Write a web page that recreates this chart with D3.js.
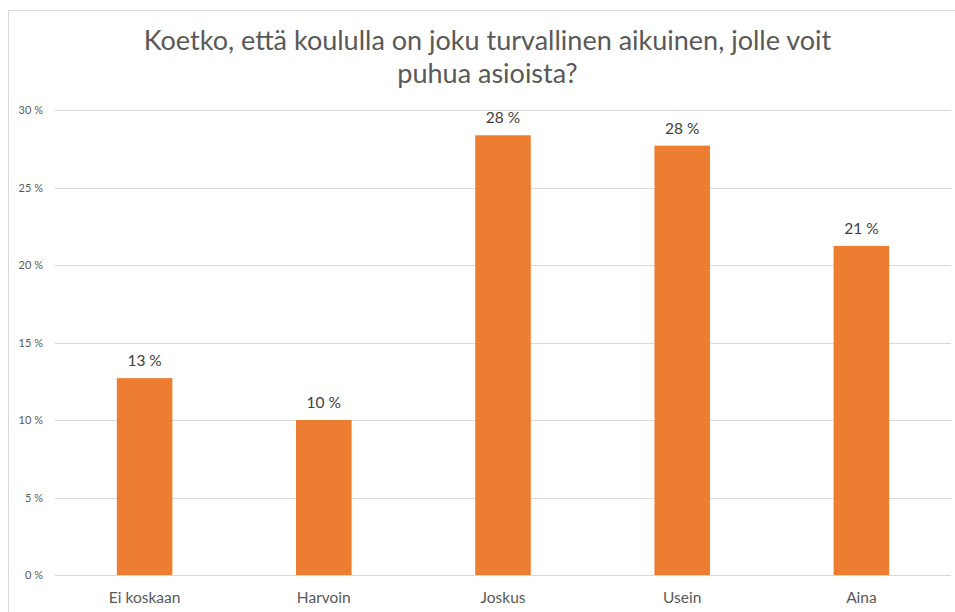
<!DOCTYPE html>
<html>
<head>
<meta charset="utf-8">
<script src="https://cdn.jsdelivr.net/npm/d3@7"></script>
<style>
  body { margin: 0; background: #fff; }
  text { font-family: Lato, "Open Sans", sans-serif; }
</style>
</head>
<body>
<div id="chart"></div>
<script>
// data
const categories = ["Ei koskaan", "Harvoin", "Joskus", "Usein", "Aina"];
const values = [12.7, 10.0, 28.37, 27.7, 21.23];
const yTicks = [0, 5, 10, 15, 20, 25, 30];
const titleLines = ["Koetko, että koululla on joku turvallinen aikuinen, jolle voit", "puhua asioista?"];

const width = 955, height = 612;
const margin = { top: 110, right: 4, bottom: 37, left: 55 };

const svg = d3.select("#chart").append("svg")
  .attr("width", width)
  .attr("height", height);

// chart frame
svg.append("rect")
  .attr("x", 8.5).attr("y", 10.5)
  .attr("width", width + 10).attr("height", height + 10)
  .attr("fill", "#fff")
  .attr("stroke", "#d9d9d9");

const x = d3.scaleBand()
  .domain(categories)
  .range([margin.left, width - margin.right])
  .paddingInner(0.69)
  .paddingOuter(0.345);

const y = d3.scaleLinear()
  .domain([0, 30])
  .range([height - margin.bottom, margin.top]);

// gridlines
svg.append("g")
  .selectAll("line")
  .data(yTicks)
  .join("line")
  .attr("x1", margin.left).attr("x2", width - margin.right)
  .attr("y1", d => Math.round(y(d)) + 0.5)
  .attr("y2", d => Math.round(y(d)) + 0.5)
  .attr("stroke", "#d9d9d9")
  .attr("stroke-width", 1);

// y tick labels
svg.append("g")
  .selectAll("text")
  .data(yTicks)
  .join("text")
  .attr("x", 43)
  .attr("y", d => y(d) + 4)
  .attr("text-anchor", "end")
  .attr("fill", "#595959")
  .attr("font-size", 11)
  .text(d => d + " %");

// bars
svg.append("g")
  .selectAll("rect")
  .data(values)
  .join("rect")
  .attr("x", (d, i) => x(categories[i]))
  .attr("y", d => y(d))
  .attr("width", x.bandwidth())
  .attr("height", d => y(0) - y(d))
  .attr("fill", "#ed7d31");

// value labels
svg.append("g")
  .selectAll("text")
  .data(values)
  .join("text")
  .attr("x", (d, i) => x(categories[i]) + x.bandwidth() / 2)
  .attr("y", d => y(d) - 12)
  .attr("text-anchor", "middle")
  .attr("fill", "#404040")
  .attr("font-size", 15.5)
  .text(d => Math.round(d) + " %");

// category labels
svg.append("g")
  .selectAll("text")
  .data(categories)
  .join("text")
  .attr("x", d => x(d) + x.bandwidth() / 2)
  .attr("y", 603)
  .attr("text-anchor", "middle")
  .attr("fill", "#595959")
  .attr("font-size", 15.5)
  .text(d => d);

// title
svg.append("g")
  .selectAll("text")
  .data(titleLines)
  .join("text")
  .attr("x", 487.5)
  .attr("y", (d, i) => 50 + i * 33)
  .attr("text-anchor", "middle")
  .attr("fill", "#595959")
  .attr("font-size", 27)
  .text(d => d);
</script>
</body>
</html>
